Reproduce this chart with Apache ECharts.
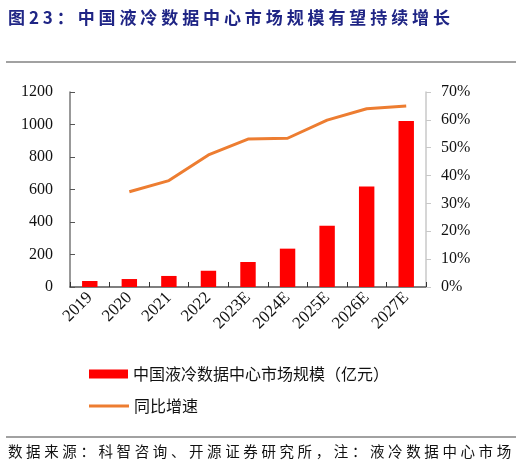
<!DOCTYPE html>
<html><head><meta charset="utf-8">
<script src="https://cdn.jsdelivr.net/npm/echarts@6/dist/echarts.min.js"></script>
<style>
html,body{margin:0;padding:0;background:#fff;}
#wrap{position:relative;width:522px;height:468px;}
#chart{position:absolute;left:0;top:0;width:522px;height:468px;}
#title{position:absolute;left:8px;top:4px;font-family:"Noto Sans CJK SC";font-weight:bold;font-size:17px;color:#1f2585;letter-spacing:3.9px;white-space:nowrap;}
#foot{position:absolute;left:8px;top:440px;font-family:"Noto Sans CJK SC";font-size:14.5px;color:#111;letter-spacing:3.6px;white-space:nowrap;}
</style></head>
<body><div id="wrap"><div id="chart"></div>
<div id="title">图23：中国液冷数据中心市场规模有望持续增长</div>
<div id="foot">数据来源：科智咨询、开源证券研究所，注：液冷数据中心市场</div>
</div>
<script>
const categories = ['2019','2020','2021','2022','2023E','2024E','2025E','2026E','2027E'];
const marketSize = [37, 49, 68, 100, 154, 236, 377, 619, 1021];
const growthRate = [null, 34.2, 38.2, 47.4, 53.1, 53.4, 59.9, 64.0, 65.0];
const leftTicks = [0, 1200, 200];
const rightTicks = [0, 70, 10];
const barName = '中国液冷数据中心市场规模（亿元）';
const lineName = '同比增速';

const chart = echarts.init(document.getElementById('chart'), null, {renderer:'canvas'});
const serif = '"Liberation Serif","Times New Roman",serif';
const cjk = '"Noto Sans CJK SC"';
chart.setOption({
  animation:false,
  backgroundColor:'#fff',
  grid:{left:70, right:96, top:92, bottom:181, containLabel:false},
  legend:[
    {orient:'vertical', left:84, top:361, itemWidth:39, itemHeight:9, icon:'rect', padding:5,
     textStyle:{fontFamily:cjk, fontSize:16, color:'#111'}, data:[barName]},
    {orient:'vertical', left:84, top:393, itemWidth:40, itemHeight:3, icon:'rect', padding:5,
     textStyle:{fontFamily:cjk, fontSize:16, color:'#111'}, data:[lineName]}
  ],
  xAxis:{
    type:'category', data:categories,
    axisLine:{lineStyle:{color:'#555', width:1.5}},
    axisTick:{show:true, inside:true, length:5, alignWithLabel:false, lineStyle:{color:'#333'}},
    axisLabel:{rotate:45, interval:0, fontFamily:serif, fontSize:17, color:'#111', margin:8}
  },
  yAxis:[
    {type:'value', min:leftTicks[0], max:leftTicks[1], interval:leftTicks[2],
     axisLine:{show:true, lineStyle:{color:'#777', width:1.5}},
     axisTick:{show:true, inside:true, length:5, lineStyle:{color:'#555'}},
     splitLine:{show:false},
     axisLabel:{fontFamily:serif, fontSize:16, color:'#111', margin:17, formatter:function(v){return String(v);}}},
    {type:'value', min:rightTicks[0], max:rightTicks[1], interval:rightTicks[2],
     axisLine:{show:true, lineStyle:{color:'#c8c8c8', width:1.5}},
     axisTick:{show:true, inside:false, length:5, lineStyle:{color:'#c8c8c8'}},
     splitLine:{show:false},
     axisLabel:{fontFamily:serif, fontSize:16, color:'#111', margin:15, formatter:'{value}%'}}
  ],
  series:[
    {name:barName, type:'bar', data:marketSize, barWidth:'39%', yAxisIndex:0,
     itemStyle:{color:'#ff0000'}},
    {name:lineName, type:'line', data:growthRate, yAxisIndex:1, symbol:'none',
     lineStyle:{color:'#ed7d31', width:3}, itemStyle:{color:'#ed7d31'}}
  ],
  graphic:[
    {type:'line', shape:{x1:6,y1:62,x2:516,y2:62}, style:{stroke:'#444', lineWidth:1.2}},
    {type:'line', shape:{x1:6,y1:437,x2:516,y2:437}, style:{stroke:'#444', lineWidth:1.2}}
  ]
});
</script></body></html>
